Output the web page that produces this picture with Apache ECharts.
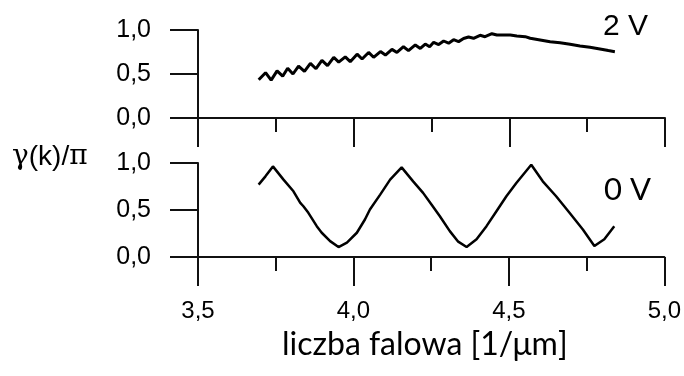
<!DOCTYPE html>
<html>
<head>
<meta charset="utf-8">
<script src="https://cdn.jsdelivr.net/npm/echarts@6/dist/echarts.min.js"></script>
<style>
  html, body { margin: 0; padding: 0; background: #fff; }
  #chart { width: 684px; height: 376px; }
</style>
</head>
<body>
<div id="chart"></div>
<script>
  // x ticks and y ticks
  var xTicks = [3.5, 4.0, 4.5, 5.0];
  var yTicks = [0.0, 0.5, 1.0];

  // 2 V curve (top panel)
  var k2V = [3.695, 3.717, 3.735, 3.754, 3.772, 3.788, 3.805, 3.823, 3.842, 3.861,
    3.879, 3.898, 3.916, 3.936, 3.952, 3.973, 3.989, 4.011, 4.027, 4.048,
    4.064, 4.086, 4.102, 4.123, 4.139, 4.160, 4.176, 4.198, 4.214, 4.230,
    4.244, 4.257, 4.273, 4.289, 4.305, 4.321, 4.337, 4.353, 4.369, 4.385,
    4.406, 4.422, 4.444, 4.460, 4.481, 4.503, 4.524, 4.551, 4.567, 4.599,
    4.631, 4.663, 4.695, 4.727, 4.759, 4.791, 4.818, 4.839];
  var g2V = [0.434, 0.515, 0.430, 0.535, 0.475, 0.565, 0.500, 0.590, 0.530, 0.620,
    0.560, 0.655, 0.595, 0.690, 0.635, 0.695, 0.640, 0.725, 0.670, 0.745,
    0.690, 0.755, 0.715, 0.780, 0.745, 0.810, 0.765, 0.830, 0.790, 0.840,
    0.810, 0.860, 0.835, 0.875, 0.850, 0.890, 0.868, 0.903, 0.920, 0.906,
    0.940, 0.924, 0.958, 0.943, 0.943, 0.943, 0.932, 0.924, 0.906, 0.887,
    0.867, 0.856, 0.838, 0.819, 0.804, 0.785, 0.766, 0.754];

  // 0 V curve (bottom panel)
  var k0V = [3.695, 3.717, 3.741, 3.775, 3.807, 3.829, 3.839, 3.855, 3.882, 3.898,
    3.925, 3.952, 3.979, 4.011, 4.037, 4.053, 4.086, 4.118, 4.155, 4.192,
    4.224, 4.251, 4.278, 4.310, 4.337, 4.364, 4.396, 4.428, 4.460, 4.492,
    4.524, 4.572, 4.609, 4.652, 4.695, 4.738, 4.775, 4.807, 4.839];
  var g0V = [0.770, 0.858, 0.964, 0.823, 0.699, 0.576, 0.540, 0.470, 0.328, 0.258,
    0.169, 0.106, 0.153, 0.258, 0.399, 0.505, 0.664, 0.823, 0.953, 0.805,
    0.682, 0.558, 0.434, 0.275, 0.163, 0.106, 0.188, 0.328, 0.487, 0.646,
    0.788, 0.982, 0.805, 0.646, 0.470, 0.293, 0.117, 0.188, 0.328];

  function pairs(xs, ys) {
    var out = [];
    for (var i = 0; i < xs.length; i++) {
      out.push([xs[i], ys[i]]);
    }
    return out;
  }

  function comma(v) {
    return v.toFixed(1).replace('.', ',');
  }

  var axisColor = '#111';
  var labelFont = 'Liberation Sans';

  function xAxisFor(idx, showLabels) {
    return {
      type: 'value',
      gridIndex: idx,
      min: xTicks[0],
      max: xTicks[xTicks.length - 1],
      interval: 0.5,
      axisLine: { show: true, onZero: false, lineStyle: { color: axisColor, width: 2 } },
      axisTick: { show: true, length: 29, lineStyle: { color: axisColor, width: 2 } },
      minorTick: { show: true, splitNumber: 2, length: 14, lineStyle: { color: axisColor, width: 2 } },
      splitLine: { show: false },
      axisLabel: {
        show: showLabels,
        margin: 42,
        color: '#000',
        fontFamily: labelFont,
        fontSize: 24,
        formatter: comma
      }
    };
  }

  function yAxisFor(idx) {
    return {
      type: 'value',
      gridIndex: idx,
      min: yTicks[0],
      max: yTicks[yTicks.length - 1],
      interval: 0.5,
      axisLine: { show: true, lineStyle: { color: axisColor, width: 2 } },
      axisTick: { show: true, length: 28, lineStyle: { color: axisColor, width: 2 } },
      splitLine: { show: false },
      axisLabel: {
        margin: 47,
        color: '#000',
        fontFamily: labelFont,
        fontSize: 25,
        formatter: comma
      }
    };
  }

  var myChart = echarts.init(document.getElementById('chart'));
  var option = {
    animation: false,
    backgroundColor: '#fff',
    grid: [
      { left: 198, top: 30, width: 467, height: 88 },
      { left: 198, top: 163, width: 467, height: 94 }
    ],
    xAxis: [xAxisFor(0, false), xAxisFor(1, true)],
    yAxis: [yAxisFor(0), yAxisFor(1)],
    graphic: [
      {
        type: 'text', left: 603, top: 12,
        style: { text: '2 V', fontFamily: labelFont, fontSize: 30, fill: '#000' }
      },
      {
        type: 'text', left: 604, top: 174,
        style: { text: '0 V', fontFamily: 'Lato', fontSize: 31, fill: '#000' }
      },
      {
        type: 'text', left: 12, top: 143,
        style: {
          text: '{s|γ}(k)/{s|π}',
          fontFamily: labelFont,
          fontSize: 28,
          fill: '#000',
          rich: {
            s: { fontFamily: 'DejaVu Serif', fontSize: 28, fill: '#000' }
          }
        }
      },
      {
        type: 'text', left: 282, top: 329,
        style: { text: 'liczba falowa [1/μm]', fontFamily: 'Lato', fontSize: 32, fill: '#000' }
      }
    ],
    series: [
      {
        name: '2 V',
        type: 'line',
        xAxisIndex: 0,
        yAxisIndex: 0,
        showSymbol: false,
        lineStyle: { color: '#000', width: 3 },
        data: pairs(k2V, g2V)
      },
      {
        name: '0 V',
        type: 'line',
        xAxisIndex: 1,
        yAxisIndex: 1,
        showSymbol: false,
        lineStyle: { color: '#000', width: 2.5 },
        data: pairs(k0V, g0V)
      }
    ]
  };

  myChart.setOption(option);
</script>
</body>
</html>
